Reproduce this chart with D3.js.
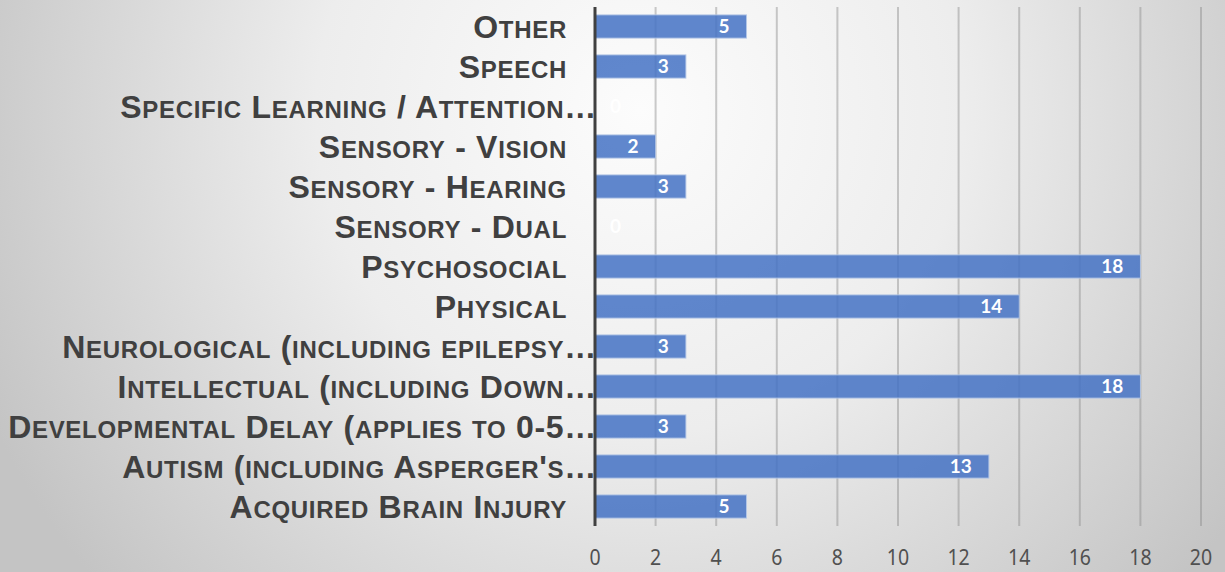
<!DOCTYPE html>
<html>
<head>
<meta charset="utf-8">
<script src="https://cdn.jsdelivr.net/npm/d3@7"></script>
<style>
  html, body { margin: 0; padding: 0; }
  body { width: 1225px; height: 572px; overflow: hidden; }
  svg { display: block; }
</style>
</head>
<body>
<svg id="chart" width="1225" height="572"></svg>
<script>
// Disability categories, listed top to bottom as drawn
const categories = [
  "Other",
  "Speech",
  "Specific Learning / Attention…",
  "Sensory - Vision",
  "Sensory - Hearing",
  "Sensory - Dual",
  "Psychosocial",
  "Physical",
  "Neurological (including epilepsy…",
  "Intellectual (including Down…",
  "Developmental Delay (applies to 0-5…",
  "Autism (including Asperger's…",
  "Acquired Brain Injury"
];
const counts = [5, 3, 0, 2, 3, 0, 18, 14, 3, 18, 3, 13, 5];
const xTicks = [0, 2, 4, 6, 8, 10, 12, 14, 16, 18, 20];

const W = 1225, H = 572;
const svg = d3.select("#chart");

// Soft radial backdrop
const defs = svg.append("defs");
const grad = defs.append("radialGradient")
  .attr("id", "bg")
  .attr("gradientUnits", "userSpaceOnUse")
  .attr("cx", 640).attr("cy", 110).attr("r", 720);
grad.append("stop").attr("offset", "0%").attr("stop-color", "#fcfcfc");
grad.append("stop").attr("offset", "45%").attr("stop-color", "#ededed");
grad.append("stop").attr("offset", "100%").attr("stop-color", "#c4c4c4");
svg.append("rect").attr("width", W).attr("height", H).attr("fill", "url(#bg)");

const x = d3.scaleLinear().domain([0, 20]).range([595, 1201]);
const y = d3.scaleBand()
  .domain(categories)
  .range([6.5, 526.5])
  .paddingInner(0.42)
  .paddingOuter(0.21);

const plotTop = 7, plotBottom = 526;

// Vertical gridlines
svg.append("g")
  .selectAll("line")
  .data(xTicks.filter(d => d !== 0))
  .join("line")
  .attr("x1", d => x(d)).attr("x2", d => x(d))
  .attr("y1", plotTop).attr("y2", plotBottom)
  .attr("stroke", "#8c8c8c")
  .attr("stroke-opacity", 0.45)
  .attr("stroke-width", 2);

const rows = categories.map((c, i) => ({ c, v: counts[i] }));

// Bars
svg.append("g")
  .selectAll("rect")
  .data(rows)
  .join("rect")
  .attr("x", x(0))
  .attr("y", d => y(d.c))
  .attr("width", d => x(d.v) - x(0))
  .attr("height", y.bandwidth())
  .attr("fill", "#4472c4")
  .attr("fill-opacity", d => d.v > 0 ? 0.85 : 0)
  .attr("stroke", "#b4c7e7")
  .attr("stroke-opacity", d => d.v > 0 ? 0.9 : 0)
  .attr("stroke-width", 1);

// Value labels at the inside end of each bar
svg.append("g")
  .selectAll("text")
  .data(rows)
  .join("text")
  .attr("x", d => Math.max(x(d.v) - 17, x(0) + 26))
  .attr("y", d => y(d.c) + y.bandwidth() / 2)
  .attr("dy", "0.36em")
  .attr("text-anchor", "end")
  .attr("fill", "#ffffff")
  .attr("font-family", "Lato, sans-serif")
  .attr("font-weight", "bold")
  .attr("font-size", 19)
  .text(d => d.v);

// Value axis line
svg.append("line")
  .attr("x1", x(0)).attr("x2", x(0))
  .attr("y1", plotTop).attr("y2", plotBottom)
  .attr("stroke", "#404040")
  .attr("stroke-width", 3);

// Value axis tick labels (slightly condensed)
svg.append("g")
  .selectAll("text")
  .data(xTicks)
  .join("text")
  .attr("transform", d => `translate(${x(d)},565) scale(0.93,1)`)
  .attr("text-anchor", "middle")
  .attr("fill", "#505050")
  .attr("font-family", "'Noto Sans', sans-serif")
  .attr("font-size", 21)
  .text(d => d);

// Category labels in small caps: lowercase letters become reduced capitals
const capSize = 32, smallSize = 24;
function runs(str) {
  const out = [];
  for (const ch of str) {
    const small = ch !== ch.toUpperCase();
    const last = out[out.length - 1];
    if (last && last.small === small) last.t += ch;
    else out.push({ small, t: ch });
  }
  return out;
}
const labels = svg.append("g")
  .selectAll("text")
  .data(categories)
  .join("text")
  .attr("x", d => d.endsWith("…") ? 597 : 567)
  .attr("y", d => y(d) + y.bandwidth() / 2 + 11.7)
  .attr("text-anchor", "end")
  .attr("fill", "#404040")
  .attr("font-family", "'Liberation Sans', Arial, sans-serif")
  .attr("font-weight", "bold")
  .attr("letter-spacing", 0.7);
labels.selectAll("tspan")
  .data(d => runs(d))
  .join("tspan")
  .attr("font-size", r => r.small ? smallSize : capSize)
  .text(r => r.small ? r.t.toUpperCase() : r.t);
</script>
</body>
</html>
